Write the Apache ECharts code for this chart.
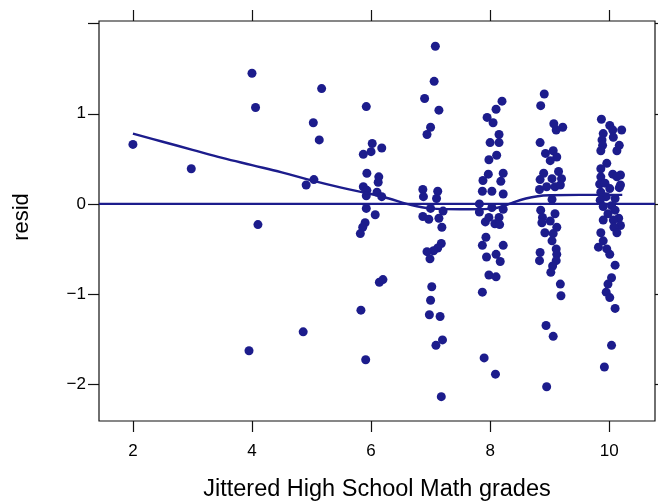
<!DOCTYPE html>
<html>
<head>
<meta charset="utf-8">
<script src="https://cdn.jsdelivr.net/npm/echarts@6/dist/echarts.min.js"></script>
<style>
  html, body { margin: 0; padding: 0; background: #fff; }
  #chart { width: 658px; height: 504px; }
</style>
</head>
<body>
<div id="chart"></div>
<script>
// Residuals against jittered high-school maths grade, one array pair per grade.
const grade2  = { x: [2.00], y: [0.66] };
const grade3  = { x: [2.98], y: [0.39] };
const grade4  = { x: [4.00, 4.06, 4.10, 3.95], y: [1.45, 1.07, -0.23, -1.63] };
const grade5  = { x: [5.17, 5.03, 5.13, 5.04, 4.91, 4.86], y: [1.28, 0.90, 0.71, 0.27, 0.21, -1.42] };
const grade6  = {
  x: [5.92, 6.02, 6.00, 5.87, 6.18, 5.93, 5.87, 5.93, 5.92, 6.13, 6.12, 6.10, 6.18, 5.92, 6.07, 5.90, 5.86, 5.82, 6.14, 6.20, 5.83, 5.91],
  y: [1.08, 0.67, 0.58, 0.55, 0.62, 0.34, 0.19, 0.15, 0.09, 0.30, 0.24, 0.13, 0.08, -0.05, -0.12, -0.21, -0.26, -0.33, -0.87, -0.84, -1.18, -1.73]
};
const grade7  = {
  x: [7.08, 7.06, 6.90, 7.14, 7.00, 6.94, 6.87, 6.88, 7.12, 7.10, 7.00, 7.21, 6.87, 6.97, 7.14, 7.19, 7.18, 7.12, 7.05, 6.94, 6.99, 7.02, 7.00, 6.98, 7.16, 7.20, 7.09, 7.18],
  y: [1.75, 1.36, 1.17, 1.04, 0.85, 0.77, 0.16, 0.08, 0.14, 0.06, -0.05, -0.08, -0.14, -0.17, -0.16, -0.26, -0.44, -0.49, -0.52, -0.53, -0.61, -0.92, -1.07, -1.23, -1.25, -1.51, -1.57, -2.14]
};
const grade8  = {
  x: [8.20, 8.10, 7.95, 8.05, 8.15, 8.00, 8.15, 7.98, 8.11, 7.97, 8.22, 7.88, 8.18, 7.87, 8.03, 8.22, 7.82, 7.82, 8.03, 8.22, 7.92, 7.98, 8.08, 8.15, 8.16, 7.93, 7.87, 8.22, 7.94, 8.10, 8.17, 7.98, 8.10, 7.87, 7.90, 8.09],
  y: [1.14, 1.05, 0.96, 0.90, 0.77, 0.68, 0.68, 0.49, 0.54, 0.33, 0.34, 0.26, 0.25, 0.14, 0.14, 0.11, 0.00, -0.09, -0.04, -0.06, -0.20, -0.15, -0.22, -0.15, -0.23, -0.37, -0.46, -0.46, -0.59, -0.56, -0.64, -0.79, -0.81, -0.98, -1.71, -1.89]
};
const grade9  = {
  x: [8.91, 8.85, 9.07, 9.22, 9.11, 8.84, 8.93, 9.06, 9.12, 9.01, 8.90, 9.15, 8.84, 9.04, 9.20, 8.83, 8.95, 9.09, 9.18, 9.04, 8.85, 8.88, 9.09, 8.87, 9.01, 9.12, 8.92, 9.06, 9.04, 8.84, 8.83, 9.11, 9.12, 9.11, 9.05, 9.02, 9.18, 9.19, 8.94, 9.06, 8.95],
  y: [1.22, 1.09, 0.89, 0.85, 0.82, 0.68, 0.56, 0.59, 0.52, 0.48, 0.34, 0.36, 0.27, 0.28, 0.28, 0.16, 0.19, 0.19, 0.21, 0.05, -0.07, -0.15, -0.11, -0.21, -0.19, -0.26, -0.32, -0.33, -0.41, -0.54, -0.63, -0.50, -0.56, -0.63, -0.69, -0.76, -0.89, -1.02, -1.35, -1.47, -2.03]
};
const grade10 = {
  x: [9.87, 10.01, 10.06, 10.21, 9.90, 9.88, 10.07, 10.17, 9.89, 9.86, 10.13, 9.96, 9.86, 10.19, 10.06, 9.86, 9.84, 9.93, 10.17, 10.01, 9.86, 9.95, 9.85, 10.10, 10.04, 9.90, 10.10, 9.98, 10.16, 10.07, 9.90, 10.19, 10.08, 10.13, 9.86, 9.90, 9.82, 9.96, 10.01, 10.10, 10.04, 9.98, 9.95, 10.01, 10.10, 10.04, 9.92, 10.13, 10.19],
  y: [0.94, 0.87, 0.82, 0.82, 0.78, 0.71, 0.74, 0.65, 0.65, 0.59, 0.59, 0.45, 0.39, 0.32, 0.33, 0.30, 0.22, 0.23, 0.18, 0.17, 0.13, 0.08, 0.04, 0.06, -0.02, -0.03, -0.07, -0.11, -0.16, -0.18, -0.18, -0.24, -0.26, -0.32, -0.32, -0.41, -0.48, -0.50, -0.56, -0.68, -0.82, -0.89, -0.98, -1.04, -1.16, -1.57, -1.81, 0.30, 0.21]
};
const gradeGroups = [grade2, grade3, grade4, grade5, grade6, grade7, grade8, grade9, grade10];

// Loess smooth of the residuals.
const smoothX = [2.0, 2.5, 3.0, 3.5, 4.0, 4.5, 5.0, 5.5, 6.0, 6.3, 6.6, 7.0, 7.5, 8.0, 8.2, 8.4, 8.6, 8.8, 9.0, 9.5, 10.22];
const smoothY = [0.78, 0.69, 0.60, 0.51, 0.43, 0.35, 0.26, 0.18, 0.11, 0.06, 0.00, -0.05, -0.06, -0.055, -0.03, 0.02, 0.06, 0.085, 0.095, 0.10, 0.10];

// Axis ranges and ticks.
const xRange = [1.43, 10.77];
const yRange = [-2.41, 2.03];
const xTicks = [2, 4, 6, 8, 10];
const yTicks = [-2, -1, 0, 1, 2];
const yTickLabels = [-2, -1, 0, 1];

const ink = '#1c1c8c';
const font = "'Liberation Sans', Arial, Helvetica, sans-serif";

const points = [];
gradeGroups.forEach(g => g.x.forEach((v, i) => points.push([v, g.y[i]])));
const smooth = smoothX.map((v, i) => [v, smoothY[i]]);

const minusFmt = v => (v < 0 ? '\u2212' + Math.abs(v) : String(v));

const tickStyle = { color: '#111', width: 1.2 };
const hiddenLine = { show: false, onZero: false };

const chart = echarts.init(document.getElementById('chart'), null, { renderer: 'canvas' });
chart.setOption({
  animation: false,
  backgroundColor: '#fff',
  grid: {
    left: 99, top: 21, width: 556, height: 400,
    show: true, borderColor: '#111', borderWidth: 1.2, backgroundColor: 'transparent'
  },
  xAxis: [
    {
      type: 'value', position: 'bottom', min: xRange[0], max: xRange[1],
      axisLine: hiddenLine, splitLine: { show: false },
      axisTick: { show: true, length: 11, customValues: xTicks, lineStyle: tickStyle },
      axisLabel: { customValues: xTicks, margin: 22, fontSize: 17, color: '#000', fontFamily: font }
    },
    {
      type: 'value', position: 'top', min: xRange[0], max: xRange[1],
      axisLine: hiddenLine, splitLine: { show: false },
      axisTick: { show: true, length: 11, customValues: xTicks, lineStyle: tickStyle },
      axisLabel: { show: false }
    }
  ],
  yAxis: [
    {
      type: 'value', position: 'left', min: yRange[0], max: yRange[1],
      axisLine: hiddenLine, splitLine: { show: false },
      axisTick: { show: true, length: 11, customValues: yTicks, lineStyle: tickStyle },
      axisLabel: { customValues: yTickLabels, formatter: minusFmt, margin: 13, fontSize: 17, color: '#000', fontFamily: font }
    },
    {
      type: 'value', position: 'right', min: yRange[0], max: yRange[1],
      axisLine: hiddenLine, splitLine: { show: false },
      axisTick: { show: true, length: 11, customValues: yTicks, lineStyle: tickStyle },
      axisLabel: { show: false }
    }
  ],
  graphic: [
    {
      type: 'text', x: 377, y: 490,
      style: { text: 'Jittered High School Math grades', font: '23.5px ' + font, fill: '#000', textAlign: 'center', textVerticalAlign: 'middle' }
    },
    {
      type: 'text', x: 22, y: 217, rotation: Math.PI / 2,
      style: { text: 'resid', font: '22px ' + font, fill: '#000', textAlign: 'center', textVerticalAlign: 'middle' }
    }
  ],
  series: [
    {
      type: 'line', data: [[xRange[0], 0], [xRange[1], 0]],
      symbol: 'none', lineStyle: { color: ink, width: 2.4 }, z: 3, silent: true
    },
    {
      type: 'scatter', data: points, symbol: 'circle', symbolSize: 9,
      itemStyle: { color: ink, opacity: 1 }, z: 4
    },
    {
      type: 'line', data: smooth, smooth: 0.4, symbol: 'none',
      lineStyle: { color: ink, width: 2.4 }, z: 5, silent: true
    }
  ]
});
</script>
</body>
</html>
